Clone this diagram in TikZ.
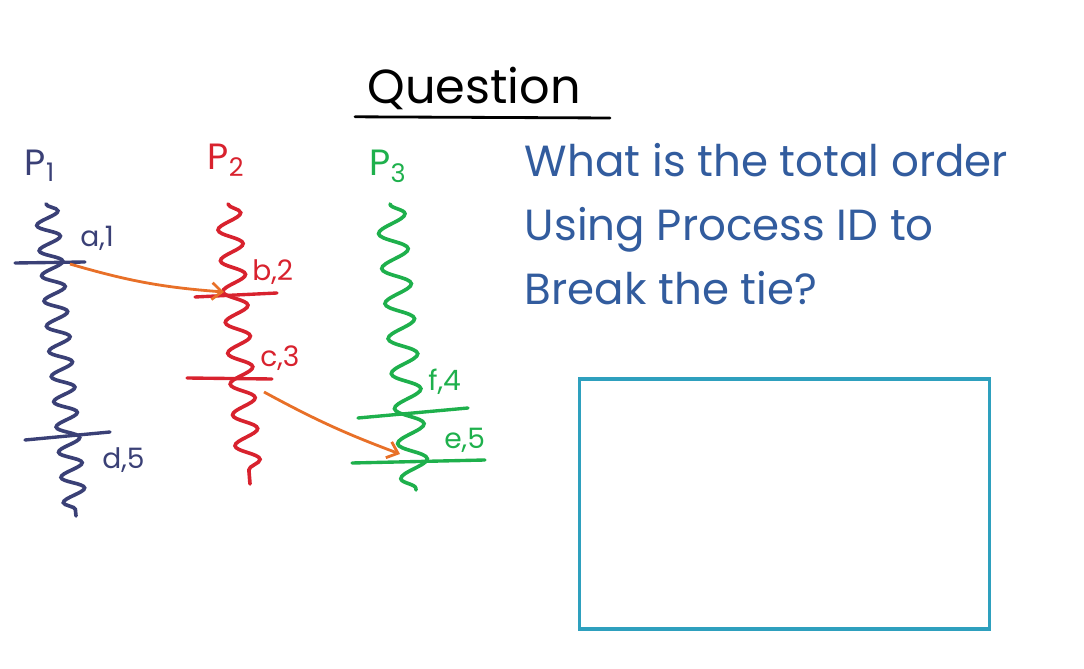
\documentclass[tikz,border=0pt]{standalone}
\usepackage{fontspec}
\setmainfont{Poppins}
\usepackage{tikz}
\usetikzlibrary{decorations.pathmorphing,arrows.meta}
\definecolor{NavyInk}{RGB}{58,64,118}
\definecolor{RedInk}{RGB}{216,34,46}
\definecolor{GreenInk}{RGB}{30,176,76}
\definecolor{OrangeInk}{RGB}{232,112,40}
\definecolor{BlueInk}{RGB}{50,92,158}
\definecolor{CyanInk}{RGB}{46,160,190}

\begin{document}
\begin{tikzpicture}
        \tikzstyle{proc} = [font=\fontsize{26}{28}\selectfont]
        \tikzstyle{lifeline} = [line width=2.6pt, line cap=round, decorate, decoration={snake, amplitude=8pt, segment length=18pt}]
        \tikzstyle{tick} = [line width=2.4pt, line cap=round]
        \tikzstyle{stamp} = [font=\fontsize{20}{22}\selectfont, anchor=west, inner sep=0pt]
        \tikzstyle{message} = [-{Straight Barb[length=7pt,width=12pt]}, line width=2pt, OrangeInk]

\useasboundingbox (0,0) rectangle (27.1,-16.725);

\node[font=\fontsize{34}{36}\selectfont] (title) at (11.85,-2.2) {Question};
        \coordinate (ulStart) at (8.875,-2.92);
        \coordinate (ulEnd) at (15.25,-2.95);
        \draw[line width=2pt, line cap=round] (ulStart) -- (ulEnd);

\node[proc, text=NavyInk] (p1) at (1.0,-4.15) {P\textsubscript{1}};
        \node[proc, text=RedInk] (p2) at (5.65,-4.0) {P\textsubscript{2}};
        \node[proc, text=GreenInk] (p3) at (9.7,-4.15) {P\textsubscript{3}};

\coordinate (p1top) at (1.15,-5.1);
        \coordinate (p1bot) at (1.9,-12.9);
        \coordinate (p2top) at (5.7,-5.1);
        \coordinate (p2bot) at (6.25,-12.1);
        \coordinate (p3top) at (9.75,-5.1);
        \coordinate (p3bot) at (10.4,-12.25);

\draw[lifeline, NavyInk] (p1top) -- (p1bot);
        \draw[lifeline, RedInk, decoration={amplitude=8.5pt, segment length=22pt}] (p2top) -- (p2bot);
        \draw[lifeline, GreenInk, decoration={amplitude=10pt, segment length=25pt}] (p3top) -- (p3bot);

\coordinate (aL) at (0.375,-6.575);
        \coordinate (aR) at (2.125,-6.55);
        \coordinate (dL) at (0.625,-11.0);
        \coordinate (dR) at (2.75,-10.8);
        \coordinate (bL) at (4.875,-7.425);
        \coordinate (bR) at (6.925,-7.325);
        \coordinate (cL) at (4.675,-9.45);
        \coordinate (cR) at (6.8,-9.475);
        \coordinate (fL) at (8.95,-10.45);
        \coordinate (fR) at (11.7,-10.2);
        \coordinate (eL) at (8.8,-11.575);
        \coordinate (eR) at (12.125,-11.5);

\draw[tick, NavyInk] (aL) -- (aR);
        \draw[tick, NavyInk] (dL) -- (dR);
        \draw[tick, RedInk] (bL) -- (bR);
        \draw[tick, RedInk] (cL) -- (cR);
        \draw[tick, GreenInk] (fL) -- (fR);
        \draw[tick, GreenInk] (eL) -- (eR);

\node[stamp, text=NavyInk] (a) at (2.0,-5.95) {a,1};
        \node[stamp, text=NavyInk] (d) at (2.55,-11.5) {d,5};
        \node[stamp, text=RedInk] (b) at (6.3,-6.8) {b,2};
        \node[stamp, text=RedInk] (c) at (6.5,-8.95) {c,3};
        \node[stamp, text=GreenInk] (f) at (10.7,-9.55) {f,4};
        \node[stamp, text=GreenInk] (e) at (11.1,-11.0) {e,5};

\coordinate (sendA) at (1.75,-6.6);
        \coordinate (recvB) at (5.6,-7.3);
        \coordinate (sendC) at (6.6,-9.8);
        \coordinate (recvE) at (10.0,-11.35);
        \draw[message] (sendA) to[bend right=6] (recvB);
        \draw[message] (sendC) to[bend right=4] (recvE);

\node[anchor=north west, align=left, text=BlueInk, font=\fontsize{31}{45.5}\selectfont] (question) at (13.0,-3.45) {What is the total order\\Using Process ID to\\Break the tie?};

\node[draw=CyanInk, line width=2.2pt, minimum width=10.25cm, minimum height=6.25cm] (answer) at (19.62,-12.6) {};

    \end{tikzpicture}
\end{document}
